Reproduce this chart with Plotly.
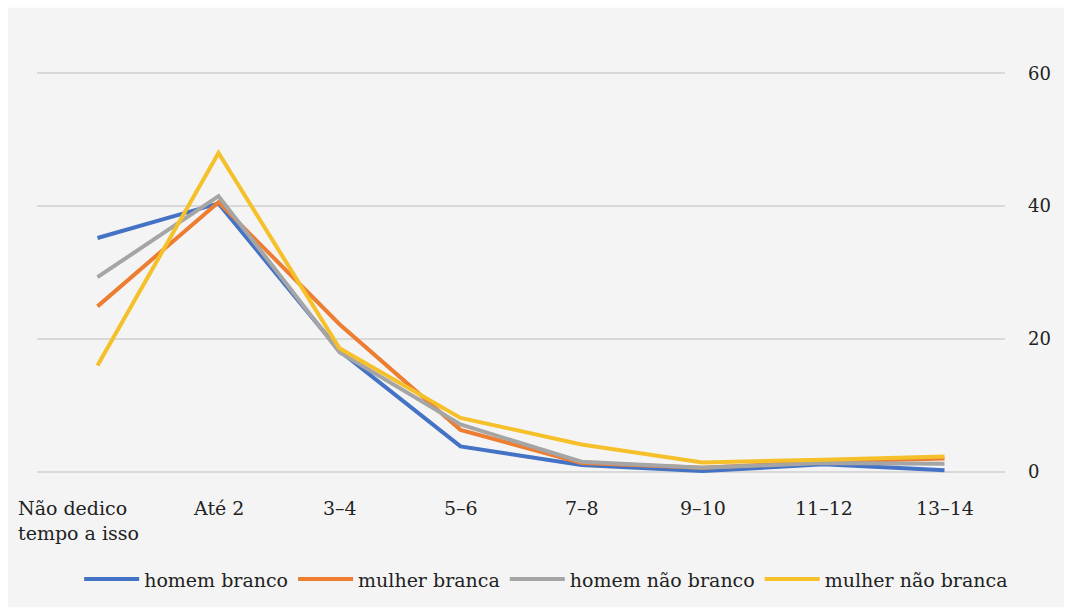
import plotly.graph_objects as go

categories = ["Não dedico tempo a isso", "Até 2", "3–4", "5–6", "7–8", "9–10", "11–12", "13–14"]
tick_text = ["Não dedico<br>tempo a isso", "Até 2", "3–4", "5–6", "7–8", "9–10", "11–12", "13–14"]

homem_branco = [35.2, 40.4, 18.2, 3.8, 1.0, 0.1, 1.1, 0.2]
mulher_branca = [24.9, 40.6, 22.2, 6.3, 1.3, 0.6, 1.5, 2.0]
homem_nao_branco = [29.3, 41.5, 18.0, 7.1, 1.5, 0.6, 1.3, 1.2]
mulher_nao_branca = [16.0, 48.0, 18.6, 8.1, 4.1, 1.4, 1.8, 2.3]

series = [
    ("homem branco", homem_branco, "#4472C4"),
    ("mulher branca", mulher_branca, "#ED7D31"),
    ("homem não branco", homem_nao_branco, "#A5A5A5"),
    ("mulher não branca", mulher_nao_branca, "#F5C02A"),
]

y_ticks = [0, 20, 40, 60]

FONT = "DejaVu Serif"

fig = go.Figure()
for name, vals, color in series:
    fig.add_trace(go.Scatter(
        x=categories, y=vals, mode="lines", name=name,
        line=dict(color=color, width=4),
    ))

annotations = []
for i, (cat, txt) in enumerate(zip(categories, tick_text)):
    if i == 0:
        annotations.append(dict(x=cat, xref="x", y=-0.118, yref="paper", text=txt,
                                showarrow=False, xanchor="left", align="left", xshift=-82,
                                yanchor="middle", font=dict(family=FONT, size=19, color="#222")))
    else:
        annotations.append(dict(x=cat, xref="x", y=-0.088, yref="paper", text=txt,
                                showarrow=False, xanchor="center", yanchor="middle",
                                font=dict(family=FONT, size=19, color="#222")))

fig.update_layout(
    width=1071, height=614,
    margin=dict(l=37, r=66, t=72, b=141),
    paper_bgcolor="white",
    plot_bgcolor="rgba(0,0,0,0)",
    font=dict(family=FONT, size=19, color="#222"),
    showlegend=True,
    legend=dict(orientation="h", x=0.526, xanchor="center", y=-0.265, yanchor="middle",
                font=dict(family=FONT, size=19, color="#222"), bgcolor="rgba(0,0,0,0)",
                itemwidth=55),
    annotations=annotations,
    shapes=[dict(type="rect", xref="paper", yref="paper", x0=-0.030, x1=1.061,
                 y0=-0.335, y1=1.160, fillcolor="#f4f4f4", line=dict(width=0), layer="below")],
)

fig.update_xaxes(type="category", range=[-0.5, 7.5], showgrid=False, showticklabels=False,
                 zeroline=False, showline=False, ticks="")
fig.update_yaxes(range=[-0.2, 60.2], side="right", tickvals=y_ticks, showgrid=True,
                 gridcolor="#d9d9d9", gridwidth=2, zeroline=False, showline=False, ticks="",
                 ticklabelstandoff=22, tickfont=dict(family=FONT, size=18, color="#222"))

fig.write_html("out.html")
